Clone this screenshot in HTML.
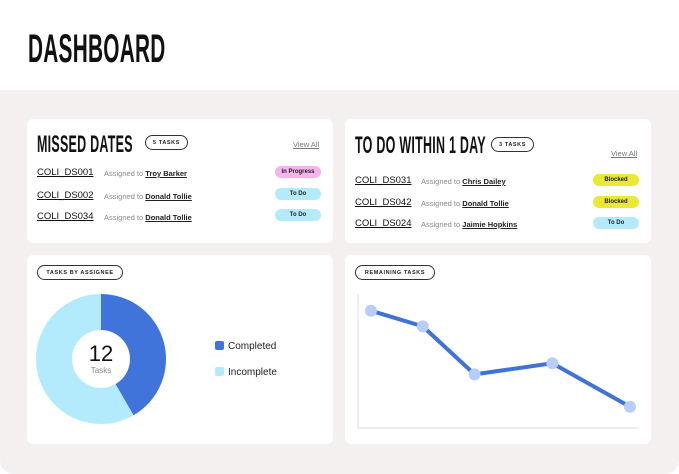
<!DOCTYPE html>
<html><head><meta charset="utf-8"><style>
*{margin:0;padding:0;box-sizing:border-box}
body{width:679px;height:474px;background:#fff;font-family:"Liberation Sans",sans-serif;position:relative;overflow:hidden}
.abs{position:absolute}
.bg{left:0;top:90px;width:679px;height:384px;background:#f4f0ef;border-radius:0 0 14px 14px}
.card{position:absolute;background:#fff;border-radius:6px}
.cond{position:absolute;font-weight:bold;color:#111;transform-origin:left top;transform:scaleX(0.52);white-space:nowrap;letter-spacing:0.5px}
.pill{position:absolute;border:1px solid #333;border-radius:8px;font-size:5.5px;font-weight:bold;letter-spacing:0.6px;color:#222;display:flex;align-items:center;justify-content:center;white-space:nowrap}
.id{position:absolute;font-size:9.5px;color:#111;text-decoration:underline;white-space:nowrap}
.as{position:absolute;font-size:7.5px;color:#888;white-space:nowrap}
.as u{color:#222;font-weight:bold}
.badge{position:absolute;width:46px;height:12px;border-radius:6px;font-size:6px;font-weight:bold;color:#222;display:flex;align-items:center;justify-content:center}
.va{position:absolute;font-size:7.5px;color:#777;text-decoration:underline}
</style></head><body>
<div class="cond" style="left:28px;top:27px;font-size:40px;">DASHBOARD</div>
<div class="abs bg"></div>

<div class="card" style="left:27px;top:119px;width:306px;height:124px"></div>
<div class="cond" style="left:37px;top:131px;font-size:24px">MISSED DATES</div>
<div class="pill" style="left:145px;top:135px;width:43px;height:15px">5 TASKS</div>
<div class="va" style="left:293px;top:140px">View All</div>
<div class="id" style="left:37px;top:167px">COLI_DS001</div>
<div class="as" style="left:104px;top:169px">Assigned to <u>Troy Barker</u></div>
<div class="badge" style="left:275px;top:166px;background:#f6b3ef">In Progress</div>
<div class="id" style="left:37px;top:190px">COLI_DS002</div>
<div class="as" style="left:104px;top:192px">Assigned to <u>Donald Tollie</u></div>
<div class="badge" style="left:275px;top:188px;background:#b3ebfb">To Do</div>
<div class="id" style="left:37px;top:211px">COLI_DS034</div>
<div class="as" style="left:104px;top:213px">Assigned to <u>Donald Tollie</u></div>
<div class="badge" style="left:275px;top:209px;background:#b3ebfb">To Do</div>

<div class="card" style="left:345px;top:119px;width:306px;height:124px"></div>
<div class="cond" style="left:355px;top:132px;font-size:24px">TO DO WITHIN 1 DAY</div>
<div class="pill" style="left:491px;top:137px;width:43px;height:15px">3 TASKS</div>
<div class="va" style="left:611px;top:149px">View All</div>
<div class="id" style="left:355px;top:175px">COLI_DS031</div>
<div class="as" style="left:421px;top:177px">Assigned to <u>Chris Dailey</u></div>
<div class="badge" style="left:593px;top:174px;background:#e9e835">Blocked</div>
<div class="id" style="left:355px;top:197px">COLI_DS042</div>
<div class="as" style="left:421px;top:199px">Assigned to <u>Donald Tollie</u></div>
<div class="badge" style="left:593px;top:196px;background:#e9e835">Blocked</div>
<div class="id" style="left:355px;top:218px">COLI_DS024</div>
<div class="as" style="left:421px;top:220px">Assigned to <u>Jaimie Hopkins</u></div>
<div class="badge" style="left:593px;top:217px;background:#b3ebfb">To Do</div>

<div class="card" style="left:27px;top:255px;width:306px;height:189px"></div>
<div class="pill" style="left:37px;top:265px;width:86px;height:15px">TASKS BY ASSIGNEE</div>
<div class="card" style="left:345px;top:255px;width:306px;height:189px"></div>
<div class="pill" style="left:355px;top:265px;width:80px;height:15px">REMAINING TASKS</div>

<svg id="charts" class="abs" style="left:0;top:0" width="679" height="474"></svg>
<script>
const pieLabels=["Completed","Incomplete"];
const pieValues=[5,7];
const pieColors=["#4074db","#b3ebfd"];
const lineX=[1,3,5,8,11];
const lineY=[10.5,9.1,4.8,5.8,1.9];
const NS="http://www.w3.org/2000/svg";
const svg=document.getElementById('charts');
function mk(t,a){const e=document.createElementNS(NS,t);for(const k in a)e.setAttribute(k,a[k]);svg.appendChild(e);return e;}
const cx=101,cy=359,R=65,r=29;
const total=pieValues.reduce((a,b)=>a+b,0);
let ang=0;
pieValues.forEach((v,i)=>{
  const a0=ang,a1=ang+v/total*2*Math.PI;ang=a1;
  const p=(a,rad)=>[cx+rad*Math.sin(a),cy-rad*Math.cos(a)];
  const [x0,y0]=p(a0,R),[x1,y1]=p(a1,R);
  const lg=(a1-a0)>Math.PI?1:0;
  const s=mk('path',{d:`M${cx},${cy}L${x0},${y0}A${R},${R} 0 ${lg} 1 ${x1},${y1}Z`,fill:pieColors[i]});
  
  
  const sq=mk('rect',{x:215,y:341+i*26,width:9,height:9,rx:2,fill:pieColors[i]});
  
  
  const t=mk('text',{x:228,y:349+i*26,'font-size':10,fill:'#222','font-family':'Liberation Sans, sans-serif'});
  t.textContent=pieLabels[i];
  
  
});
const hole=mk('circle',{cx:cx,cy:cy,r:r,fill:'#fff'});


const tt=mk('text',{x:cx,y:cy+2,'text-anchor':'middle','font-size':22,fill:'#111','font-family':'Liberation Sans, sans-serif'});
tt.textContent=String(total);


const tl=mk('text',{x:cx,y:cy+14,'text-anchor':'middle','font-size':8,fill:'#888','font-family':'Liberation Sans, sans-serif'});
tl.textContent='Tasks';


const X0=358,X1=637,Yb=428,Yt=294;
const xs=d=>371+(d-1)*25.9;
const ys=v=>Yb-v*(Yb-Yt)/12;
const ax=mk('path',{d:`M${X0},${Yt}L${X0},${Yb}L${X1},${Yb}`,fill:'none',stroke:'#ddd','stroke-width':1});


const pts=lineX.map((d,i)=>xs(d)+','+ys(lineY[i])).join(' ');
const pl=mk('polyline',{points:pts,fill:'none',stroke:'#3f73d8','stroke-width':4,'stroke-linejoin':'round'});


lineX.forEach((d,i)=>{
  const c=mk('circle',{cx:xs(d),cy:ys(lineY[i]),r:6,fill:'#b8cdf8'});
  
  
});
</script>
</body></html>
